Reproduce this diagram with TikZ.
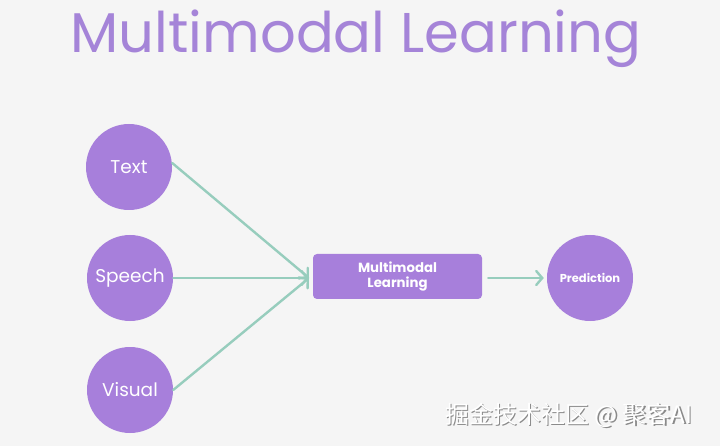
\documentclass[tikz,border=0pt]{standalone}
\usepackage{fontspec}
\setmainfont{Poppins}
\newfontfamily\cjkfont{Noto Sans CJK SC}
\usetikzlibrary{arrows.meta}
\definecolor{bgc}{HTML}{F5F5F5}
\definecolor{purp}{HTML}{A77FDB}
\definecolor{titlec}{HTML}{A584D8}
\definecolor{tealc}{HTML}{97CDBD}
\definecolor{shadowc}{HTML}{8A8A8A}
\tikzset{
  modal/.style={circle, fill=purp, minimum size=86pt, inner sep=0pt, text=white, font=\fontsize{18.5}{22}\selectfont},
  pred/.style={circle, fill=purp, minimum size=86pt, inner sep=0pt, text=white, font=\bfseries\fontsize{11.5}{13}\selectfont},
  mbox/.style={rectangle, rounded corners=4pt, fill=purp, minimum width=169pt, minimum height=45pt, inner sep=0pt, text=white, align=center, font=\bfseries\fontsize{13.3}{14.5}\selectfont},
  flow/.style={draw=tealc, line width=2.4pt, -{Straight Barb[length=6pt, width=14pt, line cap=round]}, line cap=round},
}
\begin{document}
\begin{tikzpicture}[x=1pt, y=-1pt]
\fill[bgc] (0,0) rectangle (720,446);
\useasboundingbox (0,0) rectangle (720,446);
\node[anchor=base, text=titlec, font=\fontsize{56}{64}\selectfont, inner sep=0pt] (title) at (356,53) {Multimodal Learning};
\node[modal] (text) at (129,167) {Text};
\node[modal] (speech) at (130,278) {Speech};
\node[modal] (visual) at (130,390) {Visual};
\node[mbox] (ml) at (397.5,276.5) {Multimodal\\Learning};
\node[pred] (prediction) at (590,278) {Prediction};
\coordinate (hub) at (309,278);
\draw[flow] (text.east) ++(0,-4) -- (hub);
\draw[flow] (speech.east) -- (hub);
\draw[flow] (visual.east) -- (hub);
\draw[flow] ([xshift=6pt]ml.east |- prediction.west) -- ([xshift=-3pt]prediction.west);
\node[anchor=base west, inner sep=0pt, text=shadowc, font=\cjkfont\fontsize{24}{28}\selectfont] (wmshadow) at (446.5,424.5) {掘金技术社区 @ 聚客AI};
\node[anchor=base west, inner sep=0pt, text=white, font=\cjkfont\fontsize{24}{28}\selectfont] (wm) at (445,423) {掘金技术社区 @ 聚客AI};
\end{tikzpicture}
\end{document}
